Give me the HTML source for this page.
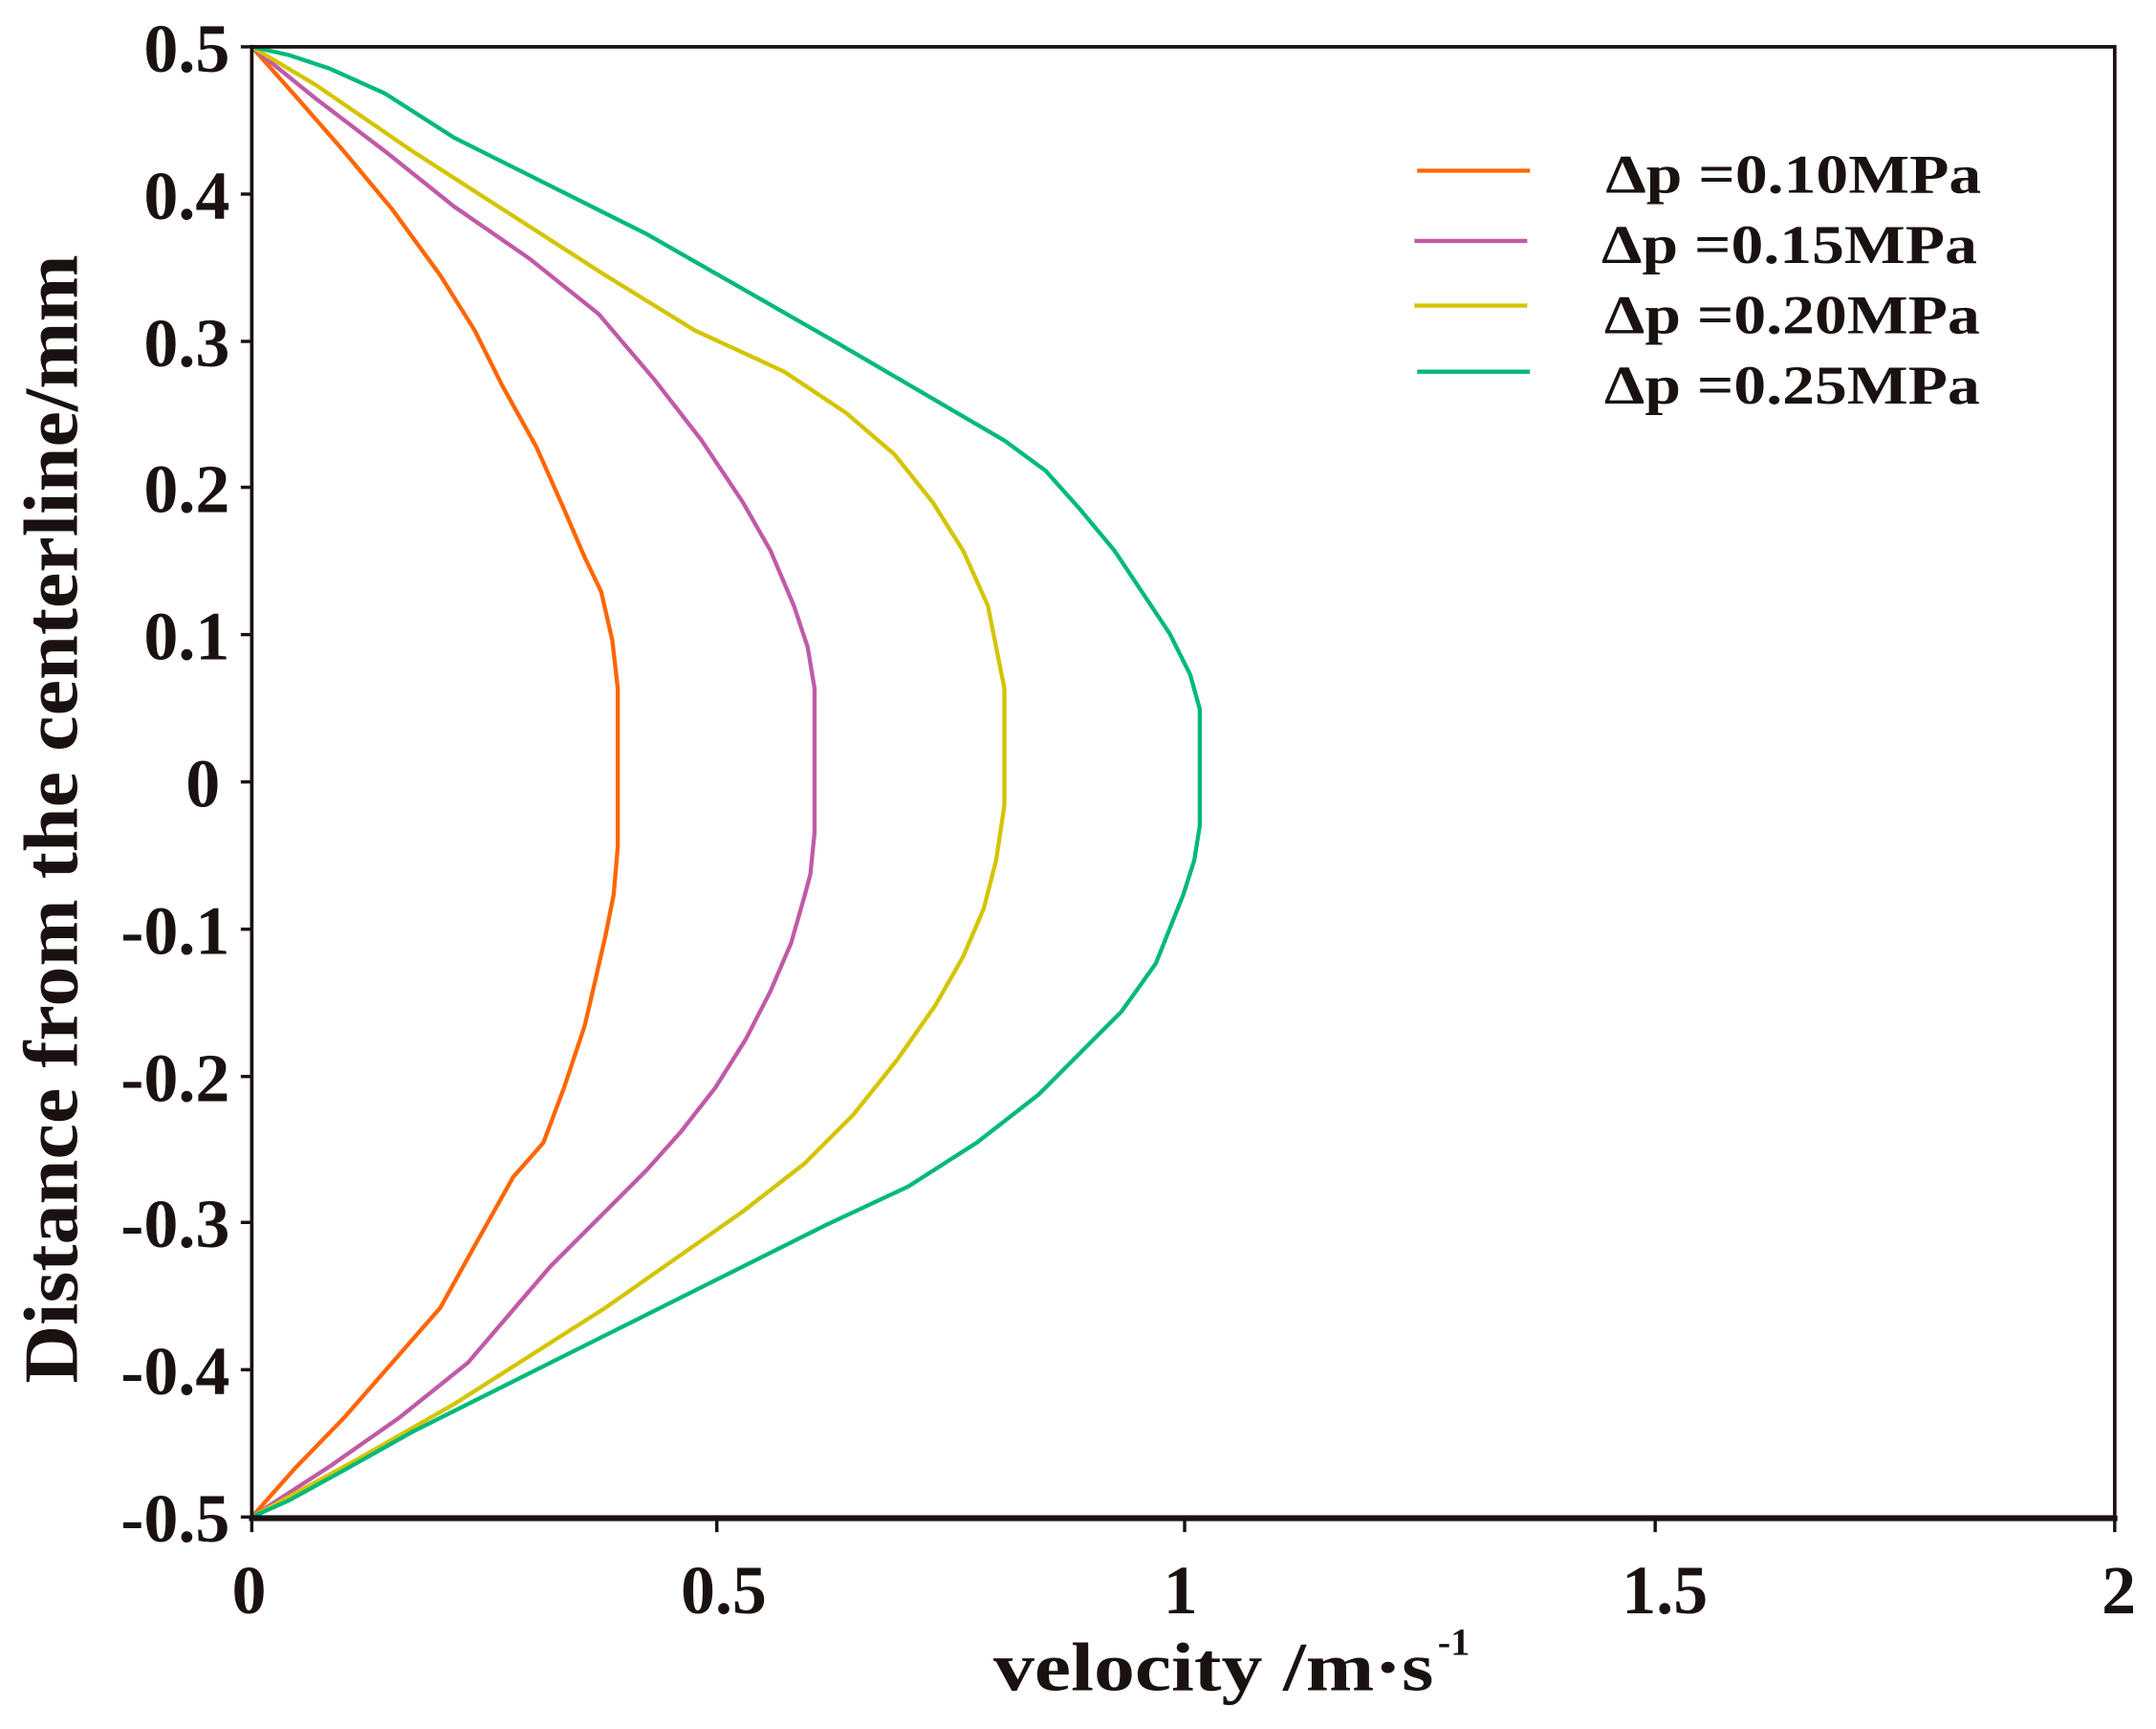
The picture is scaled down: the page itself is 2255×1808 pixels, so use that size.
<!DOCTYPE html>
<html><head><meta charset="utf-8"><style>html,body{margin:0;padding:0;background:#fff}svg{display:block}</style></head>
<body>
<svg width="2255" height="1808" viewBox="0 0 1567 1256" preserveAspectRatio="none" xmlns="http://www.w3.org/2000/svg">
<rect width="1567" height="1256" fill="#fff"/>
<g fill="none" stroke-width="3" stroke-linejoin="round" stroke-linecap="round">
<polyline stroke="#FF6600" points="183,34 215,70 250,110 285,152 320,200 345,240 365,280 390,325 410,370 425,405 437,430 445,465 449,500 449,568 449,615 446,650 440,680 432,715 425,745 410,790 395,830 373,855 345,905 320,950 285,990 250,1030 215,1066 183,1102"/>
<polyline stroke="#C05AA8" points="183,34 230,72 280,110 330,150 385,188 435,228 475,275 510,320 540,365 560,400 577,440 587,470 592,500 592,605 589,635 585,650 575,685 560,720 542,755 520,790 495,822 470,850 435,885 400,920 370,955 340,990 290,1030 240,1065 183,1102"/>
<polyline stroke="#D4C400" points="183,34 230,62 300,110 370,155 440,200 505,240 570,270 615,300 650,330 678,365 700,400 718,440 730,500 730,585 724,625 715,660 700,695 680,730 652,770 620,810 585,845 540,880 490,915 440,950 385,985 330,1020 260,1060 183,1102"/>
<polyline stroke="#00B97A" points="183,34 210,40 240,50 280,68 330,100 400,135 470,170 540,210 610,250 670,285 730,320 760,342 785,370 810,400 830,430 850,460 865,490 872,515 872,600 868,625 860,650 840,700 815,735 790,760 755,795 710,830 660,862 600,890 530,925 460,960 380,1000 300,1040 250,1068 210,1090 183,1102"/>
</g>
<g stroke="#1a1210" fill="none">
<rect x="183" y="34" width="1354" height="1068" stroke-width="2.6"/>
<line x1="181" y1="1103" x2="1539" y2="1103" stroke-width="4"/>
<g stroke-width="2.4">
<line x1="175" y1="34" x2="183" y2="34"/><line x1="175" y1="141" x2="183" y2="141"/><line x1="175" y1="248" x2="183" y2="248"/><line x1="175" y1="354" x2="183" y2="354"/><line x1="175" y1="461" x2="183" y2="461"/><line x1="175" y1="568" x2="183" y2="568"/><line x1="175" y1="675" x2="183" y2="675"/><line x1="175" y1="782" x2="183" y2="782"/><line x1="175" y1="888" x2="183" y2="888"/><line x1="175" y1="995" x2="183" y2="995"/><line x1="175" y1="1102" x2="183" y2="1102"/>
<line x1="183" y1="1102" x2="183" y2="1113"/><line x1="521" y1="1102" x2="521" y2="1113"/><line x1="861" y1="1102" x2="861" y2="1113"/><line x1="1203" y1="1102" x2="1203" y2="1113"/><line x1="1537" y1="1102" x2="1537" y2="1113"/>
</g>
</g>
<g font-family="Liberation Serif, serif" font-weight="bold" fill="#1a1210" font-size="50">
<g text-anchor="end">
<text x="167" y="52">0.5</text><text x="167" y="159">0.4</text><text x="167" y="266">0.3</text><text x="167" y="372">0.2</text><text x="167" y="479">0.1</text><text x="160" y="586">0</text><text x="167" y="693">-0.1</text><text x="167" y="800">-0.2</text><text x="167" y="906">-0.3</text><text x="167" y="1013">-0.4</text><text x="167" y="1120">-0.5</text>
</g>
<g text-anchor="middle">
<text x="181" y="1172">0</text><text x="526" y="1172">0.5</text><text x="858" y="1172">1</text><text x="1210" y="1172">1.5</text><text x="1540" y="1172">2</text>
</g>
<text x="722" y="1228" textLength="320" lengthAdjust="spacingAndGlyphs">velocity /m·s</text>
<text x="1045" y="1202" font-size="28">-1</text>
<text transform="translate(56,595) rotate(-90)" text-anchor="middle" font-size="56" textLength="820" lengthAdjust="spacingAndGlyphs">Distance from the centerline/mm</text>
<g font-size="40">
<text x="1167" y="140" textLength="273" lengthAdjust="spacingAndGlyphs">Δp =0.10MPa</text>
<text x="1164" y="191" textLength="273" lengthAdjust="spacingAndGlyphs">Δp =0.15MPa</text>
<text x="1166" y="242" textLength="273" lengthAdjust="spacingAndGlyphs">Δp =0.20MPa</text>
<text x="1166" y="293" textLength="273" lengthAdjust="spacingAndGlyphs">Δp =0.25MPa</text>
</g>
</g>
<g stroke-width="3">
<line x1="1030" y1="124" x2="1112" y2="124" stroke="#FF6600"/>
<line x1="1028" y1="175" x2="1110" y2="175" stroke="#C05AA8"/>
<line x1="1028" y1="222" x2="1110" y2="222" stroke="#D4C400"/>
<line x1="1030" y1="270" x2="1112" y2="270" stroke="#00B97A"/>
</g>
</svg>
</body></html>
